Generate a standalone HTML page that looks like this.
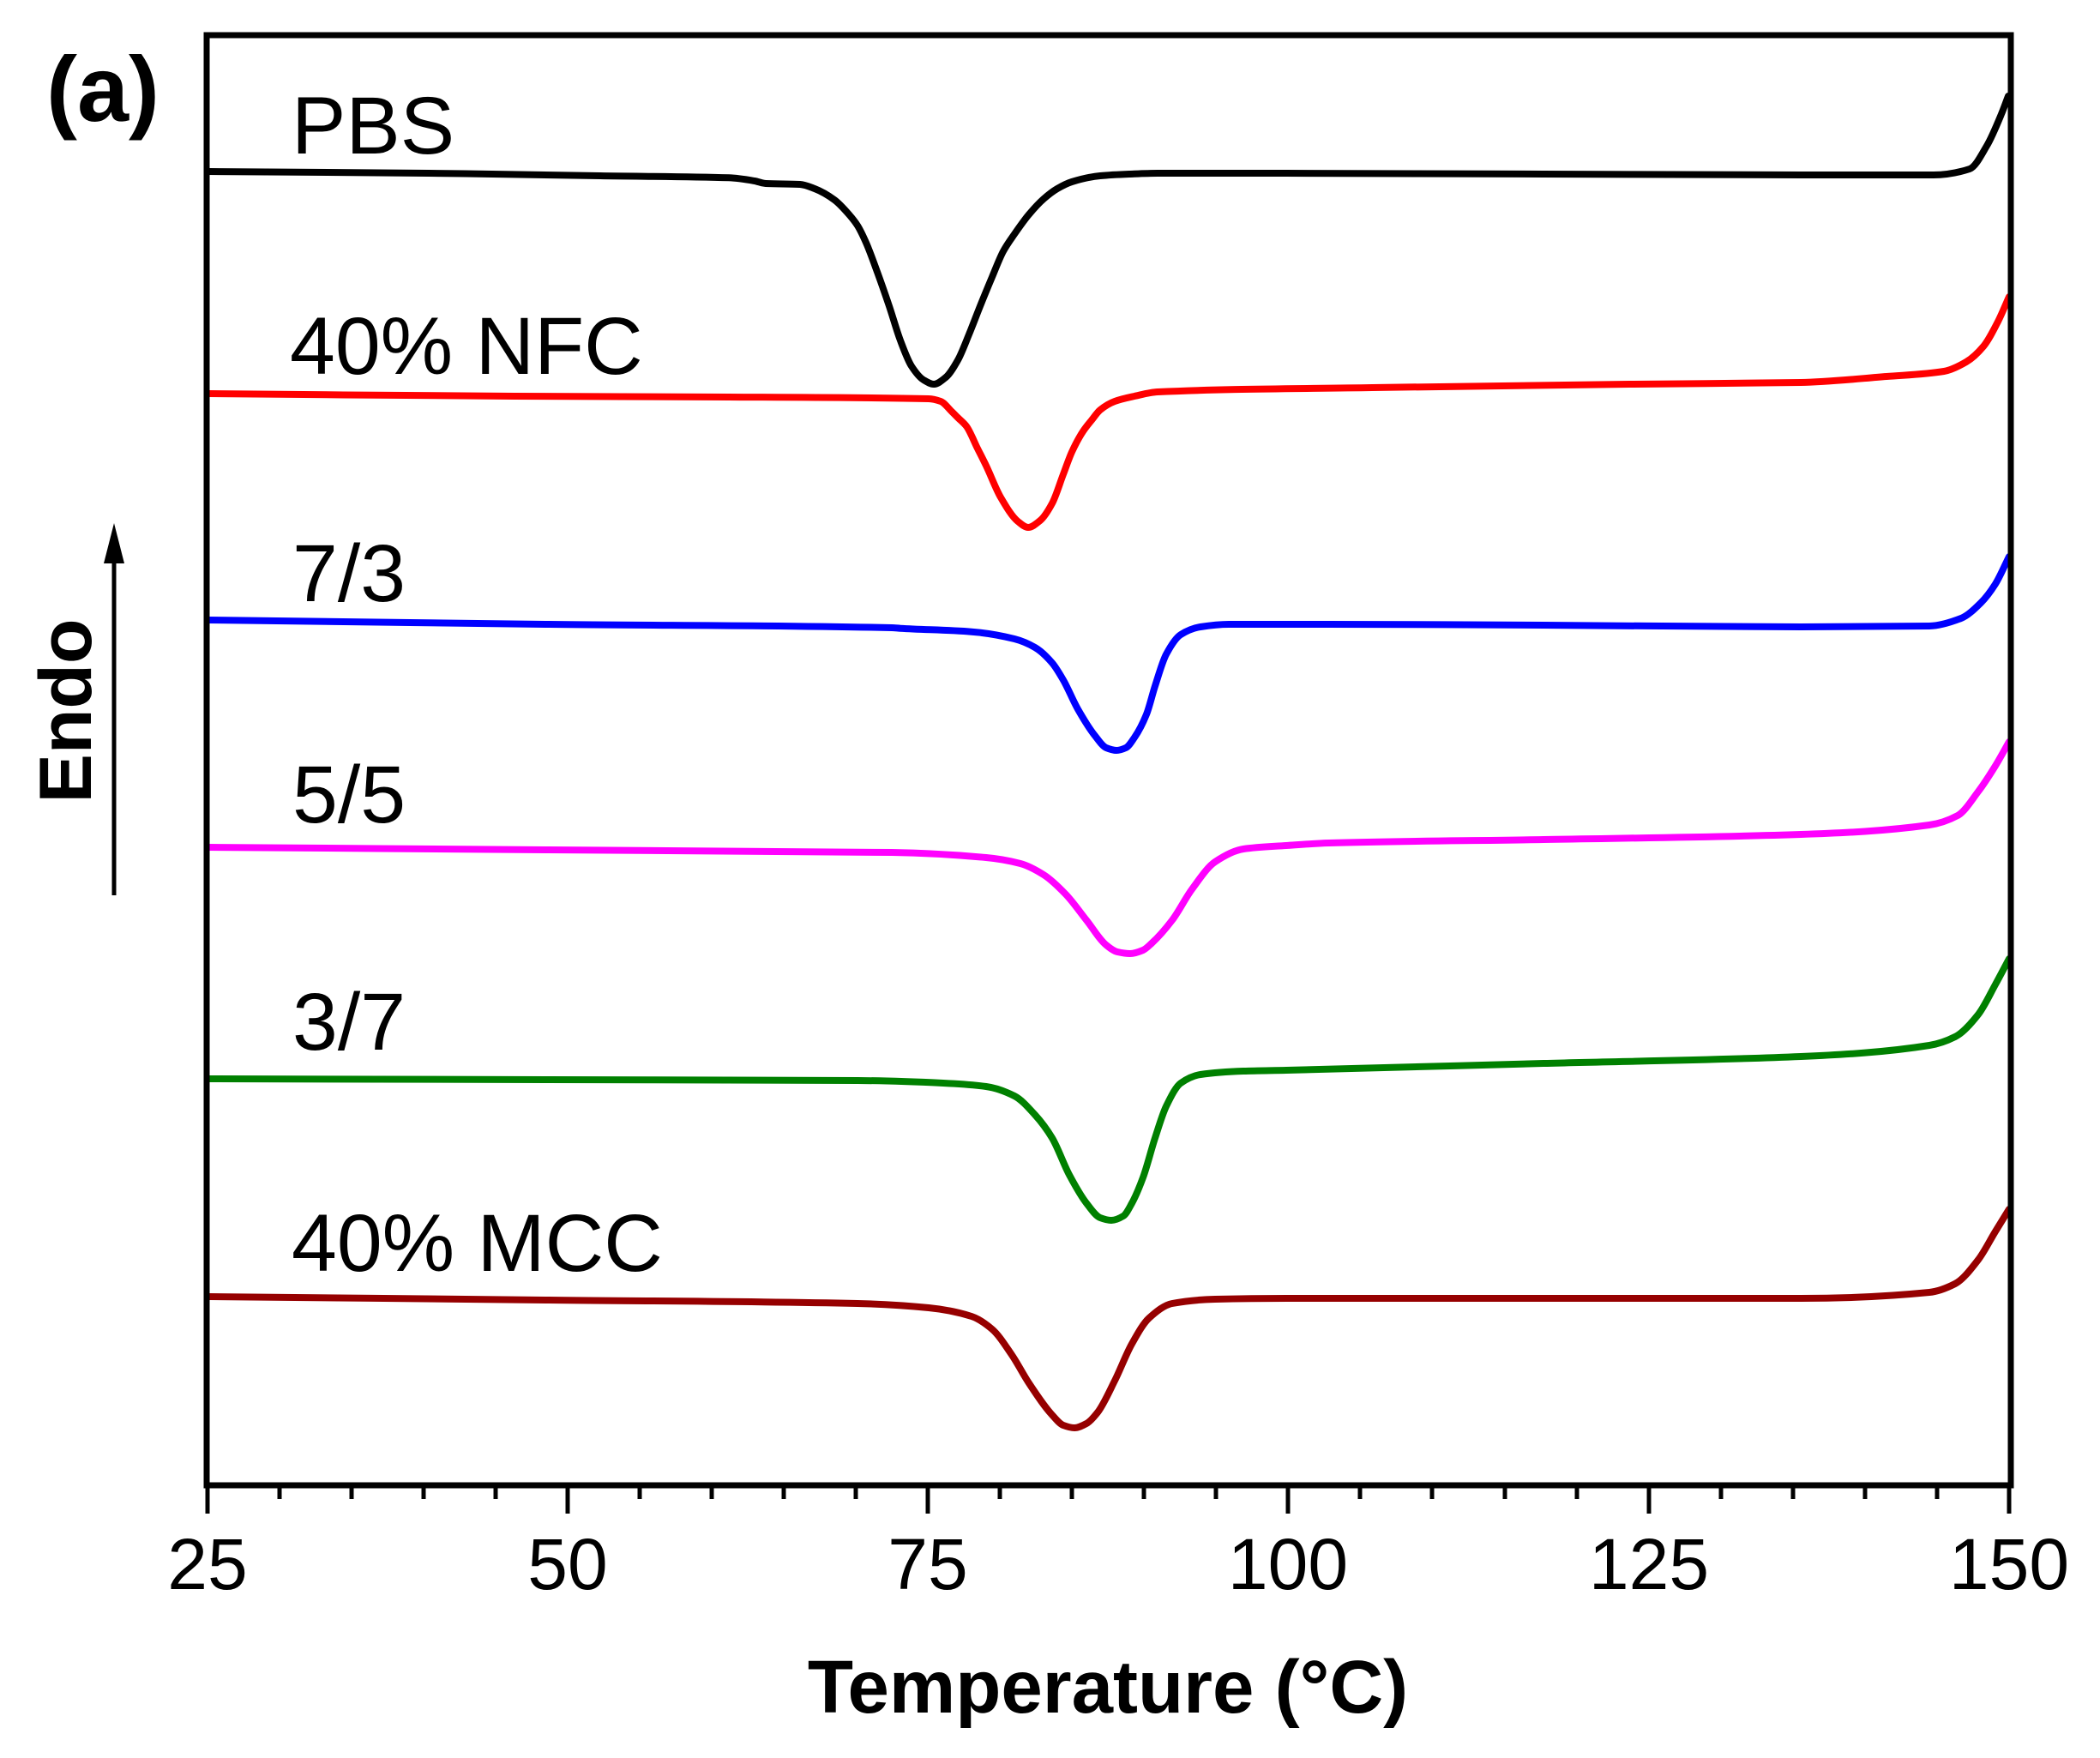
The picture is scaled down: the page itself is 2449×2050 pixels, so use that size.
<!DOCTYPE html>
<html>
<head>
<meta charset="utf-8">
<style>
html,body{margin:0;padding:0;background:#fff;}
svg{display:block;}
</style>
</head>
<body>
<svg id="chart" width="2449" height="2050" viewBox="0 0 2449 2050" xmlns="http://www.w3.org/2000/svg">
<rect x="0" y="0" width="2449" height="2050" fill="#fff"/>

<g id="curves" fill="none" stroke-width="8" stroke-linejoin="round" stroke-linecap="round">
<!-- PBS -->
<polyline stroke="#000" points="242,200 500,202 700,205 850,207.3 880,211 893,214 933,215 950,220 973,233 990,250 1000,263 1010,283 1023,317 1037,357 1050,397 1063,427 1077,443 1089,448 1103,440 1117,420 1130,390 1143,357 1157,323 1170,293 1183,273 1200,250 1217,232 1233,220 1250,212 1283,205 1317,203 1350,202 1500,202 1800,203 2100,204 2255,204 2297,197 2317,170 2334,133 2342,112"/>
<!-- 40% NFC -->
<polyline stroke="#ff0000" points="242,459 600,462 850,463 1083,465 1097,468 1110,480 1117,487 1127,497 1140,523 1150,543 1167,580 1187,608 1199,615 1213,607 1227,587 1240,553 1250,527 1263,503 1273,490 1283,478 1300,468 1323,462 1350,457 1600,452 1900,448 2100,446 2200,439 2267,433 2293,422 2313,404 2330,375 2343,346"/>
<!-- 7/3 -->
<polyline stroke="#0000ff" points="242,723 640,728 1040,732 1050,732.7 1133,736.7 1183,745 1207,755 1227,773 1240,793 1257,827 1277,858 1290,872 1302,875 1313,872 1323,860 1337,833 1347,800 1360,763 1377,740 1400,731 1433,728 1550,728 1800,729 2100,731 2250,730 2287,721 2310,703 2327,681 2343,649"/>
<!-- 5/5 -->
<polyline stroke="#ff00ff" points="242,988 640,991 1040,994 1150,1000 1190,1007 1217,1020 1243,1043 1267,1073 1290,1102 1303,1110 1318,1112 1333,1108 1343,1100 1367,1073 1390,1037 1417,1005 1450,990 1500,986 1550,983 1800,979 2100,973 2250,962 2283,951 2307,923 2327,893 2343,865"/>
<!-- 3/7 -->
<polyline stroke="#008000" points="242,1258 640,1259 1000,1260 1100,1263 1150,1267 1183,1278 1207,1300 1227,1327 1247,1370 1267,1403 1283,1420 1296,1423 1310,1418 1320,1403 1333,1373 1347,1327 1360,1290 1377,1263 1400,1253 1450,1249 1500,1248 1800,1240 2100,1232 2250,1219 2280,1209 2307,1183 2327,1148 2343,1118"/>
<!-- 40% MCC -->
<polyline stroke="#960000" points="242,1512 640,1516 1000,1520 1083,1525 1133,1535 1157,1550 1180,1580 1200,1613 1227,1650 1240,1662 1253,1665 1267,1660 1280,1647 1300,1610 1320,1567 1340,1537 1367,1520 1417,1515 1500,1514 1800,1514 2100,1514 2250,1507 2280,1497 2307,1469 2327,1436 2343,1410"/>
</g>

<!-- frame -->
<rect x="241" y="41" width="2104" height="1691" fill="none" stroke="#000" stroke-width="7"/>

<!-- ticks -->
<g stroke="#000" stroke-width="5">
<line x1="242" y1="1732" x2="242" y2="1765"/>
<line x1="326" y1="1732" x2="326" y2="1748"/>
<line x1="410" y1="1732" x2="410" y2="1748"/>
<line x1="494" y1="1732" x2="494" y2="1748"/>
<line x1="578" y1="1732" x2="578" y2="1748"/>
<line x1="662" y1="1732" x2="662" y2="1765"/>
<line x1="746" y1="1732" x2="746" y2="1748"/>
<line x1="830" y1="1732" x2="830" y2="1748"/>
<line x1="914" y1="1732" x2="914" y2="1748"/>
<line x1="998" y1="1732" x2="998" y2="1748"/>
<line x1="1082" y1="1732" x2="1082" y2="1765"/>
<line x1="1166" y1="1732" x2="1166" y2="1748"/>
<line x1="1250" y1="1732" x2="1250" y2="1748"/>
<line x1="1334" y1="1732" x2="1334" y2="1748"/>
<line x1="1418" y1="1732" x2="1418" y2="1748"/>
<line x1="1502" y1="1732" x2="1502" y2="1765"/>
<line x1="1586" y1="1732" x2="1586" y2="1748"/>
<line x1="1670" y1="1732" x2="1670" y2="1748"/>
<line x1="1755" y1="1732" x2="1755" y2="1748"/>
<line x1="1839" y1="1732" x2="1839" y2="1748"/>
<line x1="1923" y1="1732" x2="1923" y2="1765"/>
<line x1="2007" y1="1732" x2="2007" y2="1748"/>
<line x1="2091" y1="1732" x2="2091" y2="1748"/>
<line x1="2175" y1="1732" x2="2175" y2="1748"/>
<line x1="2259" y1="1732" x2="2259" y2="1748"/>
<line x1="2343" y1="1732" x2="2343" y2="1765"/>
</g>

<g font-family="Liberation Sans, Arial, sans-serif" font-size="84" text-anchor="middle" fill="#000">
<text x="242" y="1853">25</text>
<text x="662" y="1853">50</text>
<text x="1082" y="1853">75</text>
<text x="1502" y="1853">100</text>
<text x="1923" y="1853">125</text>
<text x="2343" y="1853">150</text>
</g>

<text x="1292" y="1997" font-family="Liberation Sans, Arial, sans-serif" font-size="87" font-weight="bold" text-anchor="middle" fill="#000">Temperature (°C)</text>

<!-- series labels -->
<g font-family="Liberation Sans, Arial, sans-serif" font-size="95" fill="#000">
<text x="340" y="179">PBS</text>
<text x="338" y="436">40% NFC</text>
<text x="341" y="701">7/3</text>
<text x="341" y="959">5/5</text>
<text x="341" y="1224">3/7</text>
<text x="340" y="1482">40% MCC</text>
</g>

<text x="54" y="141" font-family="Liberation Sans, Arial, sans-serif" font-size="108" font-weight="bold" fill="#000">(a)</text>

<!-- Endo + arrow -->
<text transform="translate(106,829) rotate(-90)" font-family="Liberation Sans, Arial, sans-serif" font-size="86" font-weight="bold" text-anchor="middle" fill="#000">Endo</text>
<line x1="133" y1="650" x2="133" y2="1044" stroke="#000" stroke-width="5"/>
<polygon points="133,610 121,657 145,657" fill="#000"/>
</svg>
<script>
(function(){
  var NS="http://www.w3.org/2000/svg";
  var g=document.getElementById("curves");
  var pls=Array.prototype.slice.call(g.getElementsByTagName("polyline"));
  pls.forEach(function(pl){
    var pts=pl.getAttribute("points").trim().split(/\s+/).map(function(s){var a=s.split(",");return [parseFloat(a[0]),parseFloat(a[1])];});
    var n=pts.length; if(n<3) return;
    var dx=[],s=[],m=[],i;
    for(i=0;i<n-1;i++){dx[i]=pts[i+1][0]-pts[i][0]; s[i]=(pts[i+1][1]-pts[i][1])/dx[i];}
    m[0]=s[0]; m[n-1]=s[n-2];
    for(i=1;i<n-1;i++){
      var a=s[i-1],b=s[i];
      if(a*b<=0){m[i]=0;}
      else{
        var h0=dx[i-1],h1=dx[i];
        m[i]=3*(h0+h1)/((2*h1+h0)/a+(h1+2*h0)/b);
      }
    }
    var d="M"+pts[0][0]+","+pts[0][1];
    for(i=0;i<n-1;i++){
      var h=dx[i]/3;
      var c1x=pts[i][0]+h, c1y=pts[i][1]+m[i]*h;
      var c2x=pts[i+1][0]-h, c2y=pts[i+1][1]-m[i+1]*h;
      d+=" C"+c1x.toFixed(2)+","+c1y.toFixed(2)+" "+c2x.toFixed(2)+","+c2y.toFixed(2)+" "+pts[i+1][0]+","+pts[i+1][1];
    }
    var path=document.createElementNS(NS,"path");
    path.setAttribute("d",d);
    path.setAttribute("stroke",pl.getAttribute("stroke"));
    g.replaceChild(path,pl);
  });
})();
</script>
</body>
</html>
